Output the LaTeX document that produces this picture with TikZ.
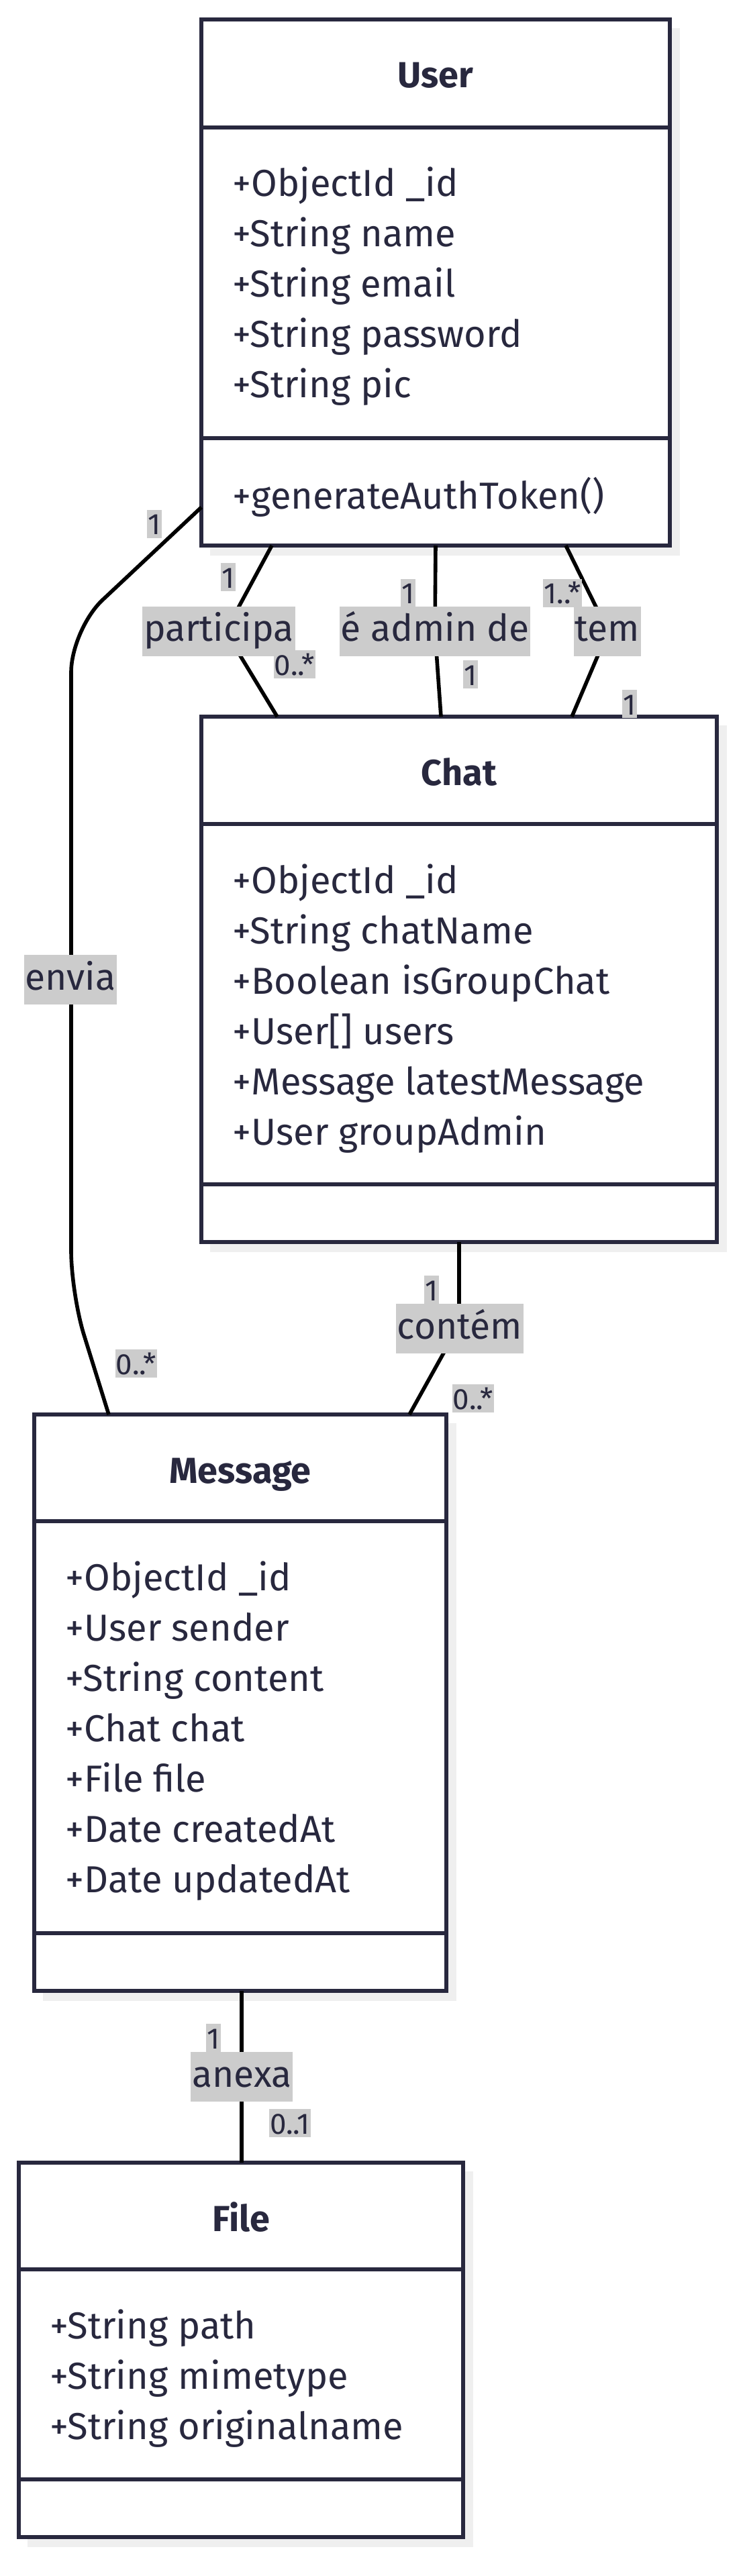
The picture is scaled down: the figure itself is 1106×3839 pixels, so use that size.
\documentclass[tikz,border=0pt]{standalone}
\usepackage{fontspec}
\setmainfont{Fira Sans}
\usetikzlibrary{calc}
\definecolor{ink}{HTML}{28283E}
\definecolor{lblgray}{HTML}{CCCCCC}
\definecolor{shadowgray}{HTML}{EFEFEF}

\begin{document}
\begin{tikzpicture}[x=0.25pt,y=-0.25pt,
  box/.style={draw=ink,line width=1.6pt,fill=white},
  shad/.style={fill=shadowgray},
  divider/.style={draw=ink,line width=1.4pt},
  conn/.style={draw=black,line width=1.4pt},
  attr/.style={anchor=base west,inner sep=0pt,text=ink,font=\fontsize{14}{16}\selectfont},
  ttl/.style={anchor=base,inner sep=0pt,text=ink,font=\fontsize{13.5}{16}\selectfont\bfseries},
  rel/.style={fill=lblgray,text=ink,inner xsep=0.5pt,inner ysep=0pt,text height=13pt,text depth=5.5pt,font=\fontsize{13.8}{16}\selectfont},
  mult/.style={fill=lblgray,text=ink,inner xsep=0.3pt,inner ysep=0pt,text height=9.25pt,text depth=1.25pt,font=\fontsize{11}{12}\selectfont}]

  \useasboundingbox (0,0) rectangle (1106,3839);

  %User
  \coordinate (UsrNW) at (300,29);
  \coordinate (UsrSE) at (998,813);
  \coordinate (UsrHL) at (300,190);
  \coordinate (UsrHR) at (998,190);
  \coordinate (UsrDL) at (300,653);
  \coordinate (UsrDR) at (998,653);
  \fill[shad] ($(UsrNW)+(13,13)$) rectangle ($(UsrSE)+(15,15)$);
  \draw[box] (UsrNW) rectangle (UsrSE);
  \draw[divider] (UsrHL) -- (UsrHR);
  \draw[divider] (UsrDL) -- (UsrDR);
  \node[ttl] (UsrT) at (649,131) {User};
  \node[attr] (UsrA) at (346,293) {+ObjectId \_id};
  \node[attr] (UsrB) at (346,368) {+String name};
  \node[attr] (UsrC) at (346,443) {+String email};
  \node[attr] (UsrD) at (346,518) {+String password};
  \node[attr] (UsrE) at (346,593) {+String pic};
  \node[attr] (UsrM) at (346,759) {+generateAuthToken()};

  %Chat
  \coordinate (ChtNW) at (300,1068);
  \coordinate (ChtSE) at (1068,1851);
  \coordinate (ChtHL) at (300,1228);
  \coordinate (ChtHR) at (1068,1228);
  \coordinate (ChtDL) at (300,1765);
  \coordinate (ChtDR) at (1068,1765);
  \fill[shad] ($(ChtNW)+(13,13)$) rectangle ($(ChtSE)+(15,15)$);
  \draw[box] (ChtNW) rectangle (ChtSE);
  \draw[divider] (ChtHL) -- (ChtHR);
  \draw[divider] (ChtDL) -- (ChtDR);
  \node[ttl] (ChtT) at (684,1170) {Chat};
  \node[attr] (ChtA) at (346,1331) {+ObjectId \_id};
  \node[attr] (ChtB) at (346,1406) {+String chatName};
  \node[attr] (ChtC) at (346,1481) {+Boolean isGroupChat};
  \node[attr] (ChtD) at (346,1556) {+User[] users};
  \node[attr] (ChtE) at (346,1631) {+Message latestMessage};
  \node[attr] (ChtF) at (346,1706) {+User groupAdmin};

  %Message
  \coordinate (MsgNW) at (51,2108);
  \coordinate (MsgSE) at (665,2967);
  \coordinate (MsgHL) at (51,2267);
  \coordinate (MsgHR) at (665,2267);
  \coordinate (MsgDL) at (51,2881);
  \coordinate (MsgDR) at (665,2881);
  \fill[shad] ($(MsgNW)+(13,13)$) rectangle ($(MsgSE)+(15,15)$);
  \draw[box] (MsgNW) rectangle (MsgSE);
  \draw[divider] (MsgHL) -- (MsgHR);
  \draw[divider] (MsgDL) -- (MsgDR);
  \node[ttl] (MsgT) at (358,2210) {Message};
  \node[attr] (MsgA) at (97,2370) {+ObjectId \_id};
  \node[attr] (MsgB) at (97,2445) {+User sender};
  \node[attr] (MsgC) at (97,2520) {+String content};
  \node[attr] (MsgD) at (97,2595) {+Chat chat};
  \node[attr] (MsgE) at (97,2670) {+File file};
  \node[attr] (MsgF) at (97,2745) {+Date createdAt};
  \node[attr] (MsgG) at (97,2820) {+Date updatedAt};

  %File
  \coordinate (FilNW) at (28,3223);
  \coordinate (FilSE) at (690,3781);
  \coordinate (FilHL) at (28,3382);
  \coordinate (FilHR) at (690,3382);
  \coordinate (FilDL) at (28,3695);
  \coordinate (FilDR) at (690,3695);
  \fill[shad] ($(FilNW)+(13,13)$) rectangle ($(FilSE)+(15,15)$);
  \draw[box] (FilNW) rectangle (FilSE);
  \draw[divider] (FilHL) -- (FilHR);
  \draw[divider] (FilDL) -- (FilDR);
  \node[ttl] (FilT) at (359,3325) {File};
  \node[attr] (FilA) at (74,3485) {+String path};
  \node[attr] (FilB) at (74,3560) {+String mimetype};
  \node[attr] (FilC) at (74,3635) {+String originalname};

  %connectors
  \coordinate (EnvA) at (300,756);
  \coordinate (EnvB) at (106,938);
  \coordinate (EnvC) at (106,1928);
  \coordinate (EnvD) at (162,2108);
  \draw[conn,rounded corners=16pt] (EnvA) -- (EnvB) -- (EnvC) -- (EnvD);

  \coordinate (ParA) at (405,813);
  \coordinate (ParB) at (336,941);
  \coordinate (ParC) at (413,1068);
  \draw[conn] (ParA) -- (ParB) -- (ParC);

  \coordinate (AdmA) at (649,813);
  \coordinate (AdmB) at (648,941);
  \coordinate (AdmC) at (657,1068);
  \draw[conn] (AdmA) -- (AdmB) -- (AdmC);

  \coordinate (TemA) at (843,813);
  \coordinate (TemB) at (906,941);
  \coordinate (TemC) at (852,1068);
  \draw[conn] (TemA) -- (TemB) -- (TemC);

  \coordinate (ConA) at (684,1851);
  \coordinate (ConB) at (684,1975);
  \coordinate (ConC) at (610,2108);
  \draw[conn,rounded corners=6pt] (ConA) -- (ConB) -- (ConC);

  \coordinate (AnxA) at (360,2967);
  \coordinate (AnxB) at (360,3223);
  \draw[conn] (AnxA) -- (AnxB);

  %labels
  \node[rel] (EnvL) at (105,1460) {envia};
  \node[rel] (ParL) at (326,941) {participa};
  \node[rel] (AdmL) at (648,941) {é admin de};
  \node[rel] (TemL) at (905,941) {tem};
  \node[rel] (ConL) at (685,1980) {contém};
  \node[rel] (AnxL) at (360,3095) {anexa};

  \node[mult] (EnvM1) at (230,781) {1};
  \node[mult] (EnvM2) at (203,2032) {0..*};
  \node[mult] (ParM1) at (340,860) {1};
  \node[mult] (ParM2) at (439,990) {0..*};
  \node[mult] (AdmM1) at (608,884) {1};
  \node[mult] (AdmM2) at (701,1005) {1};
  \node[mult] (TemM1) at (838,884) {1..*};
  \node[mult] (TemM2) at (938,1049) {1};
  \node[mult] (ConM1) at (643,1922) {1};
  \node[mult] (ConM2) at (705,2084) {0..*};
  \node[mult] (AnxM1) at (318,3037) {1};
  \node[mult] (AnxM2) at (432,3164) {0..1};

\end{tikzpicture}
\end{document}
